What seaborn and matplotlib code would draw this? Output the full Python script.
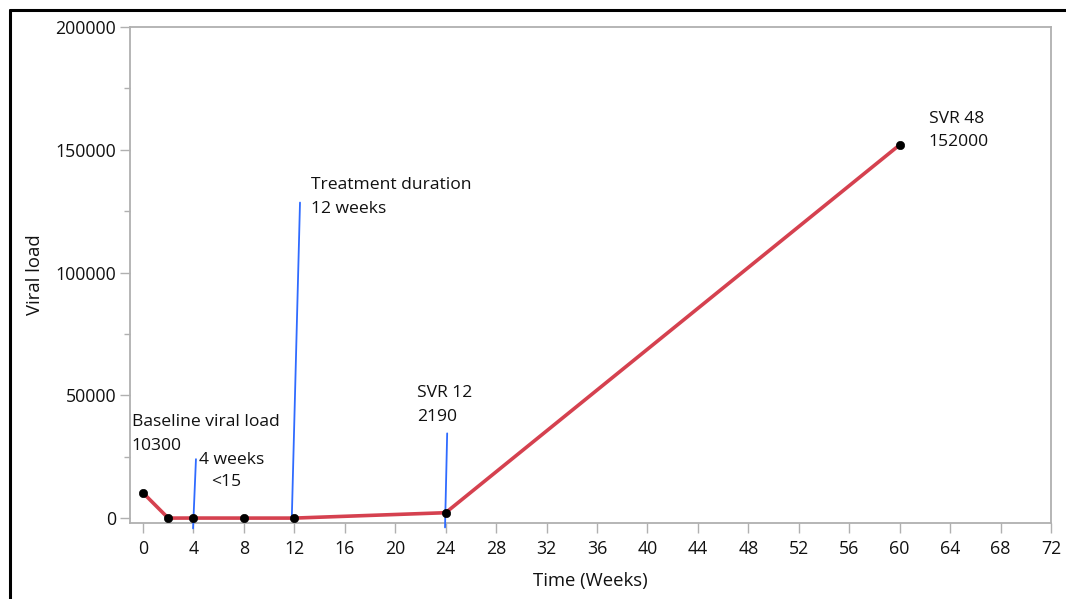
import matplotlib
matplotlib.use("Agg")
import matplotlib.pyplot as plt
from matplotlib.lines import Line2D
from matplotlib.ticker import MultipleLocator
import numpy as np
import pandas as pd
import seaborn as sns

# Viral load measurements over time
weeks = [0, 2, 4, 8, 12, 24, 60]
viral_load = [10300, 0, 15, 0, 0, 2190, 152000]

# Annotation labels with text anchors (data units)
label_texts = ["Baseline viral load\n10300", "4 weeks", "<15",
               "Treatment duration\n12 weeks", "SVR 12\n2190", "SVR 48\n152000"]
label_x = [-0.9, 4.45, 5.4, 13.3, 21.7, 62.3]
label_y = [42200, 26900, 17900, 138800, 54000, 165800]

# Blue marker lines: (x_bottom, y_bottom, x_top, y_top)
marker_lines = [
    (3.97, -4200, 4.2, 24000),
    (11.8, 0, 12.45, 128500),
    (23.95, -3800, 24.12, 34500),
]

sns.set_theme(style="white")
plt.rcParams["font.family"] = ["Open Sans", "DejaVu Sans"]

fig = plt.figure(figsize=(10.66, 5.99), dpi=100)
ax = fig.add_axes([130 / 1066, 1 - 523 / 599, (1051 - 130) / 1066, (523 - 27) / 599])

df = pd.DataFrame({"week": weeks, "load": viral_load})
sns.lineplot(data=df, x="week", y="load", ax=ax, color="#d5414f", linewidth=2.6,
             zorder=2)
sns.scatterplot(data=df, x="week", y="load", ax=ax, color="black", s=36,
                zorder=4, edgecolor="black")

for xb, yb, xt, yt in marker_lines:
    ax.plot([xb, xt], [yb, yt], color="#2f6bff", linewidth=1.3, zorder=3,
            clip_on=False)

for t, x, y in zip(label_texts, label_x, label_y):
    ax.text(x, y, t, fontsize=12.6, color="#111111", va="top", ha="left",
            linespacing=1.62)

ax.set_xlim(-1.03, 72)
ax.set_ylim(-2000, 200000)
ax.set_xticks(np.arange(0, 73, 4))
ax.set_yticks(np.arange(0, 200001, 50000))
ax.yaxis.set_minor_locator(MultipleLocator(25000))
ax.tick_params(axis="both", which="major", length=7, width=1, color="#b0b0b0",
               labelsize=12.8, labelcolor="#111111", direction="out",
               bottom=True, left=True)
ax.tick_params(axis="y", which="minor", length=4, width=1, color="#b0b0b0",
               left=True)
ax.tick_params(axis="x", pad=5)
ax.tick_params(axis="y", pad=3)
for s in ax.spines.values():
    s.set_color("#b0b0b0")
    s.set_linewidth(1.3)

ax.set_xlabel("Time (Weeks)", fontsize=13.3, color="#111111", labelpad=10)
ax.set_ylabel("Viral load", fontsize=13.3, color="#111111", labelpad=8)

# Frame along the top and left edges of the figure
fig.add_artist(Line2D([10 / 1066, 1], [1 - 10 / 599, 1 - 10 / 599],
                      transform=fig.transFigure, color="black", linewidth=2.2))
fig.add_artist(Line2D([10 / 1066, 10 / 1066], [0, 1 - 10 / 599],
                      transform=fig.transFigure, color="black", linewidth=2.2))

fig.savefig("out.png", dpi=100)
